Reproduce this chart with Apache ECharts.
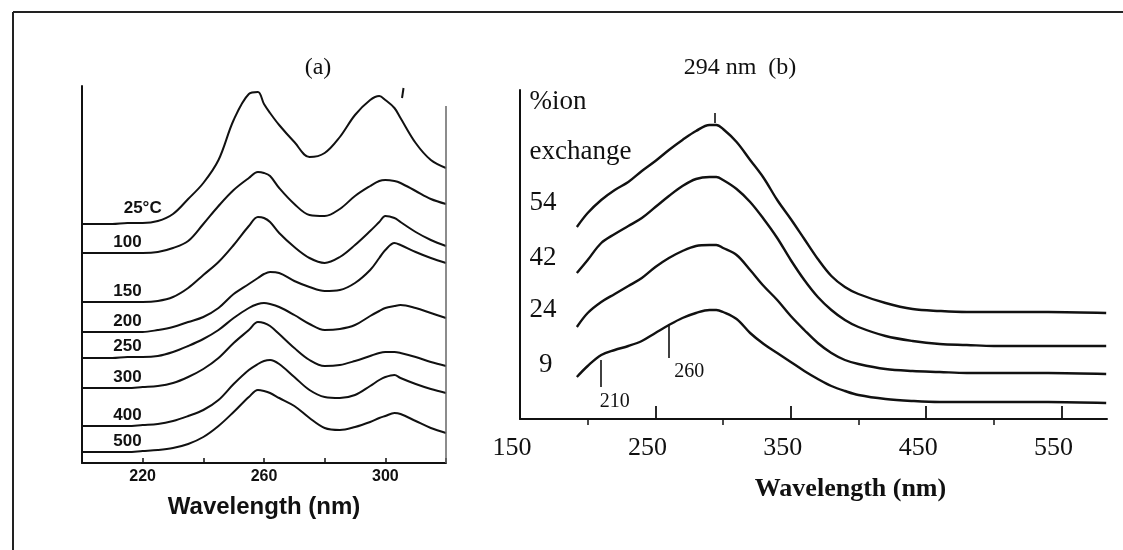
<!DOCTYPE html>
<html>
<head>
<meta charset="utf-8">
<script src="https://cdn.jsdelivr.net/npm/echarts@6/dist/echarts.min.js"></script>
<style>html,body{margin:0;padding:0;background:#fff}#chart{width:1123px;height:550px}</style>
</head>
<body>
<div id="chart"></div>
<script>
// ---------- Panel (a): UV-vis spectra vs. calcination temperature ----------
const wavelengthsA = [200,205,210,215,220,225,230,235,240,245,250,255,258,260,262,265,270,275,280,285,290,295,298,300,303,305,310,315,320];
const tempLabels = ['25°C','100','150','200','250','300','400','500'];
const abs25  = [239,239,239,240,240,242,249,264,280,303,343,369,371,359,350,338,321,306,310,326,348,363,367,363,355,345,320,303,295];
const abs100 = [210,210,210,210,210,211,215,222,239,257,273,285,291,290,287,275,259,248,247,254,267,277,282,283,282,280,272,264,259];
const abs150 = [161,161,161,161,161,162,166,175,188,201,218,237,246,245,241,230,216,205,200,206,218,232,241,247,245,241,231,223,217];
const abs200 = [131,131,131,131,131,133,136,141,146,155,169,179,185,189,191,190,182,176,172,173,180,193,205,213,220,218,211,205,200];
const abs250 = [105,105,105,106,106,107,111,117,124,133,145,155,159,160,159,156,148,139,133,134,138,147,152,155,157,158,155,150,145];
const abs300 = [75,75,75,75,76,77,80,86,94,105,120,133,141,140,137,129,115,103,97,98,102,107,110,111,111,110,106,101,97];
const abs400 = [37,37,37,37,38,39,42,47,53,63,79,93,99,102,103,99,86,73,66,65,68,77,83,86,88,85,79,74,70];
const abs500 = [11,11,11,11,12,13,15,19,26,37,51,66,73,72,70,65,57,45,35,33,36,41,45,47,50,49,42,35,30];
const ticksA = [220,260,300];

// ---------- Panel (b): UV-vis spectra vs. % ion exchange ----------
const wavelengthsB = [192,200,210,220,230,240,250,260,270,280,290,295,300,310,320,330,340,350,360,370,380,390,400,420,440,460,480,500,540,583];
const ionLabels = ['54','42','24','9'];
const ion54 = [192,206,219,229,237,248,258,269,279,288,294,294,290,277,259,241,219,200,180,160,143,132,125,116,110,108,107,107,107,106];
const ion42 = [146,159,176,185,193,201,212,223,233,240,242,242,239,230,217,200,181,159,139,122,109,99,92,83,78,75,74,73,73,73];
const ion24 = [92,106,117,125,133,141,152,161,168,173,174,174,171,164,149,133,119,103,89,76,66,59,55,50,48,47,46,46,46,45];
const ion9  = [42,53,64,69,73,78,86,94,101,106,109,109,107,100,86,75,66,57,48,40,33,28,24,20,18,17,17,17,17,16];
const ticksBMajor = [250,350,450,550];
const ticksBMinor = [200,300,400,500];
const ticksBLabels = [150,250,350,450,550];
const markersB = [210,260,294];

// ---------- styling ----------
const INK = '#111';
const SANS = "'Liberation Sans', Arial, sans-serif";
const SERIF = "'Liberation Serif', 'Times New Roman', serif";

const seriesA = [abs25,abs100,abs150,abs200,abs250,abs300,abs400,abs500];
const seriesB = [ion54,ion42,ion24,ion9];

function pairs(xs, ys){ return xs.map((x,i)=>[x, ys[i]]); }
function valAt(xs, ys, x){ const i = xs.indexOf(x); return ys[i]; }

const series = [];
seriesA.forEach((ys, k) => {
  const lx = k === 0 ? 220 : 215;
  series.push({
    type:'line', xAxisIndex:0, yAxisIndex:0, data: pairs(wavelengthsA, ys),
    showSymbol:false, smooth:0.35, silent:true,
    lineStyle:{color:INK, width:2},
    markPoint:{
      silent:true, symbol:'circle', symbolSize:0,
      data:[{coord:[lx, valAt(wavelengthsA, ys, lx) + (k === 0 ? 15 : 11)]}],
      label:{show:true, position:'inside', formatter: tempLabels[k], color:INK,
             fontFamily:SANS, fontWeight:'bold', fontSize:17}
    },
    markLine: k === 0 ? {
      silent:true, symbol:['none','none'], label:{show:false},
      lineStyle:{color:'#666', width:1.5, type:'solid'},
      data:[
        [{coord:[320,0]},{coord:[320,357]}],
        [{coord:[305.5,365], lineStyle:{color:INK,width:2}},{coord:[306,375], lineStyle:{color:INK,width:2}}]
      ]
    } : undefined
  });
});

const labelYB = [216,161,109,54];
seriesB.forEach((ys, k) => {
  const mp = [{coord:[k===3 ? 164 : 157, labelYB[k]], label:{formatter: ionLabels[k]}}];
  if (k === 0) {
    mp.push({coord:[157, 317], label:{formatter:'%ion'}});
    mp.push({coord:[157, 267], label:{formatter:'exchange'}});
  }
  if (k === 3) {
    mp.push({coord:[209, 17], label:{formatter:'210', fontSize:20}});
    mp.push({coord:[264, 47], label:{formatter:'260', fontSize:20}});
  }
  const ml = [];
  if (k === 0) ml.push([{coord:[294,296]},{coord:[294,306]}]);
  if (k === 3) {
    ml.push([{coord:[210,32]},{coord:[210,59]}]);
    ml.push([{coord:[260,61]},{coord:[260,95]}]);
  }
  series.push({
    type:'line', xAxisIndex:1, yAxisIndex:1, data: pairs(wavelengthsB, ys),
    showSymbol:false, smooth:0.35, silent:true,
    lineStyle:{color:INK, width:2.4},
    markPoint:{
      silent:true, symbol:'circle', symbolSize:0, data: mp,
      label:{show:true, position:'inside', align:'left', color:INK, fontFamily:SERIF, fontSize:27}
    },
    markLine: ml.length ? {
      silent:true, symbol:['none','none'], label:{show:false},
      lineStyle:{color:INK, width:1.6, type:'solid'}, data: ml
    } : undefined
  });
});

const chart = echarts.init(document.getElementById('chart'), null, {renderer:'canvas'});
chart.setOption({
  animation:false,
  backgroundColor:'#fff',
  grid:[
    {left:82, top:86, width:364, height:377},
    {left:520, top:90, width:587, height:329}
  ],
  xAxis:[
    {gridIndex:0, type:'value', min:200, max:320, interval:20,
     axisLine:{show:true, onZero:false, lineStyle:{color:INK, width:2}},
     axisTick:{show:true, inside:true, length:5, lineStyle:{color:INK, width:1.5}},
     axisLabel:{formatter:v => ticksA.includes(v) ? String(v) : '', margin:6, color:INK,
                fontFamily:SANS, fontWeight:'bold', fontSize:16},
     splitLine:{show:false},
     name:'Wavelength (nm)', nameLocation:'middle', nameGap:32,
     nameTextStyle:{color:INK, fontFamily:SANS, fontWeight:'bold', fontSize:24}},
    {gridIndex:1, type:'value', min:150, max:583.6,
     axisLine:{show:true, onZero:false, lineStyle:{color:INK, width:2}},
     axisTick:{show:true, inside:true, length:13, customValues:ticksBMajor, lineStyle:{color:INK, width:1.8}},
     axisLabel:{customValues:ticksBLabels, margin:16, color:INK, fontFamily:SERIF, fontSize:26, padding:[0,16,0,0]},
     splitLine:{show:false},
     name:'Wavelength (nm)', nameLocation:'middle', nameGap:57,
     nameTextStyle:{color:INK, fontFamily:SERIF, fontWeight:'bold', fontSize:26, padding:[0,0,0,74]}},
    {gridIndex:1, type:'value', min:150, max:583.6,
     axisLine:{show:false},
     axisTick:{show:true, inside:true, length:6, customValues:ticksBMinor, lineStyle:{color:INK, width:1.5}},
     axisLabel:{show:false}, splitLine:{show:false}}
  ],
  yAxis:[
    {gridIndex:0, type:'value', min:0, max:377,
     axisLine:{show:true, lineStyle:{color:INK, width:2}},
     axisTick:{show:false}, axisLabel:{show:false}, splitLine:{show:false}},
    {gridIndex:1, type:'value', min:0, max:329,
     axisLine:{show:true, lineStyle:{color:INK, width:2}},
     axisTick:{show:false}, axisLabel:{show:false}, splitLine:{show:false}}
  ],
  graphic:[
    {type:'line', shape:{x1:13, y1:12, x2:1123, y2:12}, style:{stroke:'#222', lineWidth:2}, silent:true},
    {type:'line', shape:{x1:13, y1:12, x2:13, y2:550}, style:{stroke:'#222', lineWidth:2}, silent:true},
    {type:'text', x:318, y:68, silent:true,
     style:{text:'(a)', fill:INK, font:"24px 'Liberation Serif', serif", align:'center', verticalAlign:'middle', textAlign:'center', textVerticalAlign:'middle'}},
    {type:'text', x:740, y:68, silent:true,
     style:{text:'294 nm  (b)', fill:INK, font:"24px 'Liberation Serif', serif", align:'center', verticalAlign:'middle', textAlign:'center', textVerticalAlign:'middle'}}
  ],
  series: series
});
</script>
</body>
</html>
